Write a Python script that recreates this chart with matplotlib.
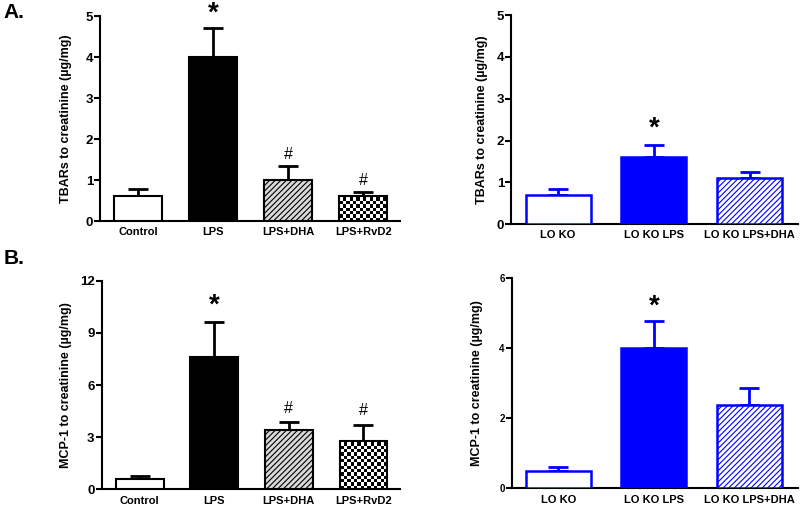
import numpy as np
import matplotlib
matplotlib.use("Agg")
import matplotlib.pyplot as plt

plt.rcParams["font.family"] = ["Liberation Sans", "DejaVu Sans"]
plt.rcParams["font.weight"] = "bold"
plt.rcParams["axes.labelweight"] = "bold"
plt.rcParams["hatch.linewidth"] = 0.8

# ---------- данные ----------
wt_groups = ["Control", "LPS", "LPS+DHA", "LPS+RvD2"]
ko_groups = ["LO KO", "LO KO LPS", "LO KO LPS+DHA"]

tbars_wt = [0.6, 4.0, 1.0, 0.6]
tbars_wt_err = [0.18, 0.7, 0.33, 0.1]
tbars_wt_marks = ["", "*", "#", "#"]

tbars_ko = [0.7, 1.6, 1.1]
tbars_ko_err = [0.15, 0.3, 0.15]
tbars_ko_marks = ["", "*", ""]

mcp_wt = [0.6, 7.6, 3.4, 2.8]
mcp_wt_err = [0.18, 2.0, 0.45, 0.9]
mcp_wt_marks = ["", "*", "#", "#"]

mcp_ko = [0.5, 4.0, 2.38]
mcp_ko_err = [0.1, 0.78, 0.48]
mcp_ko_marks = ["", "*", ""]

BLUE = "#0000ff"

fig = plt.figure(figsize=(8.0, 5.07), dpi=100)


def style_axis(ax, ylim, yticks, tick_fs=9.5):
    ax.set_ylim(*ylim)
    ax.set_yticks(yticks)
    for s in ("top", "right"):
        ax.spines[s].set_visible(False)
    for s in ("left", "bottom"):
        ax.spines[s].set_linewidth(1.5)
    ax.tick_params(axis="y", width=1.5, length=4, labelsize=tick_fs, pad=1)
    ax.tick_params(axis="x", length=0, labelsize=8, pad=4.5)


def checker(ax, bar):
    # шахматная заливка, обрезанная по столбцу
    x0, x1 = ax.get_xlim()
    y0, y1 = ax.get_ylim()
    bb = ax.get_position()
    nx = int(bb.width * 800 / 3.3)
    ny = int(bb.height * 507 / 3.3)
    cb = (np.add.outer(np.arange(ny), np.arange(nx)) % 2).astype(float)
    im = ax.imshow(cb, cmap="gray", extent=(x0, x1, y0, y1), aspect="auto",
                   interpolation="nearest", zorder=2)
    im.set_clip_path(bar)
    ax.set_xlim(x0, x1)
    ax.set_ylim(y0, y1)


def wt_panel(rect, vals, errs, marks, ylim, yticks, ylabel, mark_off, lpad):
    ax = fig.add_axes(rect)
    x = np.arange(len(wt_groups))
    fc = ["white", "black", "#d9d9d9", "white"]
    hatch = [None, None, "//////", None]
    bars = ax.bar(x, vals, width=0.64, color=fc, edgecolor="black",
                  linewidth=1.5, zorder=3)
    for b, h in zip(bars, hatch):
        if h:
            b.set_hatch(h)
    ax.errorbar(x, vals, yerr=[np.zeros(len(errs)), errs], fmt="none",
                ecolor="black", elinewidth=2, capsize=7.5, capthick=2, zorder=2)
    ax.set_xlim(-0.51, 3.49)
    style_axis(ax, ylim, yticks)
    # шахматка для LPS+RvD2
    bars[3].set_facecolor("none")
    checker(ax, bars[3])
    ax.set_xticks(x)
    ax.set_xticklabels(wt_groups)
    ax.set_ylabel(ylabel, fontsize=9, fontweight="bold", labelpad=lpad)
    for xi, v, e, m in zip(x, vals, errs, marks):
        if m == "*":
            ax.text(xi, v + e + mark_off, m, ha="center", va="center",
                    fontsize=20, clip_on=False)
        elif m:
            ax.text(xi, v + e + mark_off * 0.85, m, ha="center", va="center",
                    fontsize=11.5, fontweight="normal")
    return ax


def ko_panel(rect, vals, errs, marks, ylim, yticks, ylabel, mark_off, tick_fs, lpad):
    ax = fig.add_axes(rect)
    x = np.arange(len(ko_groups))
    bars = ax.bar(x, vals, width=0.68, color=["white", BLUE, "white"],
                  edgecolor=BLUE, linewidth=1.8, zorder=3)
    bars[2].set_hatch("//////")
    ax.errorbar(x, vals, yerr=[np.zeros(len(errs)), errs], fmt="none",
                ecolor=BLUE, elinewidth=2, capsize=7.5, capthick=2, zorder=2)
    ax.set_xlim(-0.49, 2.51)
    style_axis(ax, ylim, yticks, tick_fs)
    ax.set_xticks(x)
    ax.set_xticklabels(ko_groups)
    ax.set_ylabel(ylabel, fontsize=9, fontweight="bold", labelpad=lpad)
    for xi, v, e, m in zip(x, vals, errs, marks):
        if m:
            ax.text(xi, v + e + mark_off, m, ha="center", va="center",
                    fontsize=20)
    return ax


wt_panel([0.125, 0.5641, 0.375, 0.4043], tbars_wt, tbars_wt_err, tbars_wt_marks,
         (0, 5), [0, 1, 2, 3, 4, 5], "TBARs to creatinine (µg/mg)", 0.35, 10)
ko_panel([0.639, 0.558, 0.359, 0.412], tbars_ko, tbars_ko_err, tbars_ko_marks,
         (0, 5), [0, 1, 2, 3, 4, 5], "TBARs to creatinine (µg/mg)", 0.38, 9.5, 6)
wt_panel([0.127, 0.0349, 0.373, 0.4114], mcp_wt, mcp_wt_err, mcp_wt_marks,
         (0, 12), [0, 3, 6, 9, 12], "MCP-1 to creatinine (µg/mg)", 0.95, 6)
ko_panel([0.6396, 0.0369, 0.358, 0.414], mcp_ko, mcp_ko_err, mcp_ko_marks,
         (0, 6), [0, 2, 4, 6], "MCP-1 to creatinine (µg/mg)", 0.4, 7, 12)

fig.text(0.004, 0.976, "A.", fontsize=15, fontweight="bold", va="center")
fig.text(0.004, 0.490, "B.", fontsize=15, fontweight="bold", va="center")

fig.savefig("out.png", dpi=100)
